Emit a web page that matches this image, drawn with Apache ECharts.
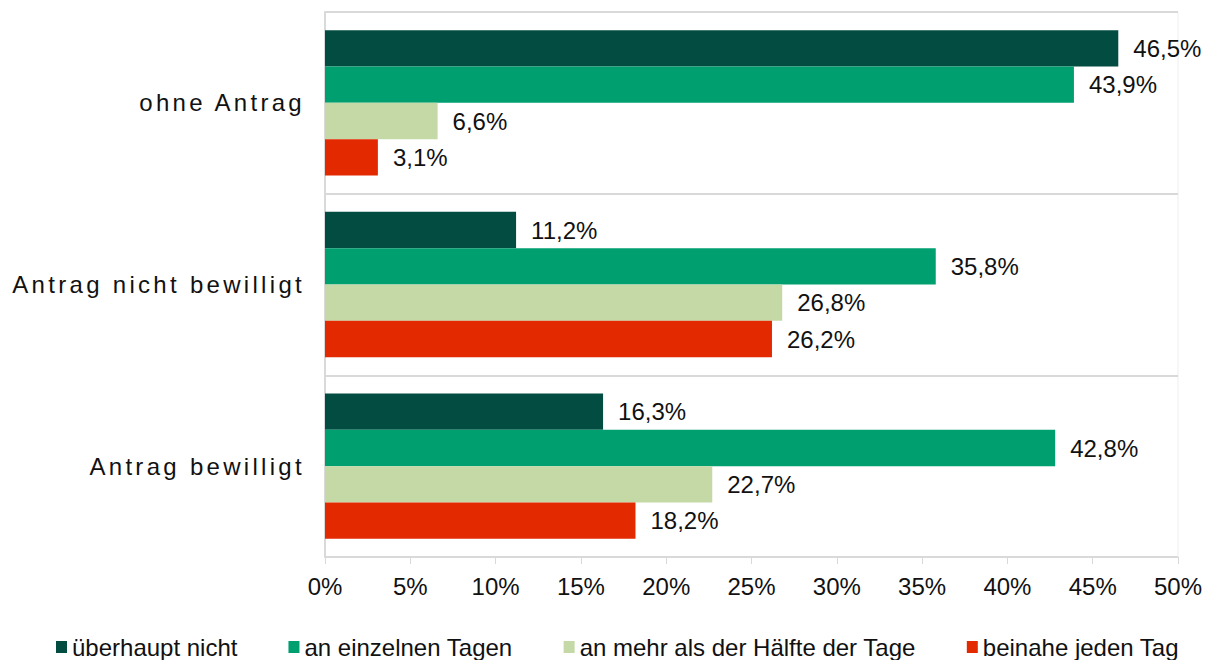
<!DOCTYPE html>
<html>
<head>
<meta charset="utf-8">
<script src="https://cdn.jsdelivr.net/npm/echarts@6/dist/echarts.min.js"></script>
<style>
  html, body { margin: 0; padding: 0; background: #fff; }
  #chart { width: 1211px; height: 660px; }
  /* only the category labels are end-anchored: give them the spaced look */
  #chart svg text[text-anchor="end"] { letter-spacing: 3.3px; }
</style>
</head>
<body>
<div id="chart"></div>
<script>
// categories, top to bottom
const categories = ['ohne Antrag', 'Antrag nicht bewilligt', 'Antrag bewilligt'];
const seriesNames = ['überhaupt nicht', 'an einzelnen Tagen', 'an mehr als der Hälfte der Tage', 'beinahe jeden Tag'];
const seriesColors = ['#034c41', '#009f70', '#c4d9a6', '#e22900'];
// percent values per series, in category order
const ueberhauptNicht = [46.5, 11.2, 16.3];
const einzelneTage = [43.9, 35.8, 42.8];
const mehrAlsHaelfte = [6.6, 26.8, 22.7];
const beinaheJedenTag = [3.1, 26.2, 18.2];
const xTicks = { min: 0, max: 50, interval: 5 };

const FONT = '"Liberation Sans", Arial, sans-serif';
const values = [ueberhauptNicht, einzelneTage, mehrAlsHaelfte, beinaheJedenTag];

const chart = echarts.init(document.getElementById('chart'), null, { renderer: 'svg' });

const series = seriesNames.map((name, i) => ({
    name: name,
    type: 'bar',
    data: values[i],
    barGap: '0%',
    barCategoryGap: '20%',
    itemStyle: { color: seriesColors[i] },
    label: {
        show: true,
        position: 'right',
        distance: 15,
        color: '#111',
        fontFamily: FONT,
        fontSize: 24,
        formatter: p => p.value.toFixed(1).replace('.', ',') + '%'
    }
}));

chart.setOption({
    animation: false,
    textStyle: { fontFamily: FONT },
    grid: {
        left: 325, right: 33, top: 12, bottom: 103,
        show: true, borderColor: '#eeeeee', borderWidth: 1
    },
    legend: {
        data: seriesNames,
        left: 56, top: 635,
        padding: 0,
        itemWidth: 11, itemHeight: 12, itemGap: 51,
        icon: 'rect',
        textStyle: { color: '#111', fontSize: 24, fontFamily: FONT, padding: [0, 0, 0, 0] }
    },
    xAxis: {
        type: 'value',
        min: xTicks.min, max: xTicks.max, interval: xTicks.interval,
        axisLine: { show: true, lineStyle: { color: '#d9d9d9', width: 1 } },
        axisTick: { show: true, length: 7, lineStyle: { color: '#d9d9d9' } },
        splitLine: { show: false },
        axisLabel: {
            margin: 17,
            color: '#111', fontSize: 24, fontFamily: FONT,
            formatter: '{value}%'
        }
    },
    yAxis: {
        type: 'category',
        data: categories,
        inverse: true,
        axisLine: { show: true, lineStyle: { color: '#d9d9d9', width: 2 } },
        axisTick: { show: false },
        splitLine: { show: true, interval: 0, lineStyle: { color: '#d9d9d9', width: 2 } },
        axisLabel: {
            margin: 20,
            color: '#111', fontSize: 24, fontFamily: FONT
        }
    },
    series: series
});
</script>
</body>
</html>
